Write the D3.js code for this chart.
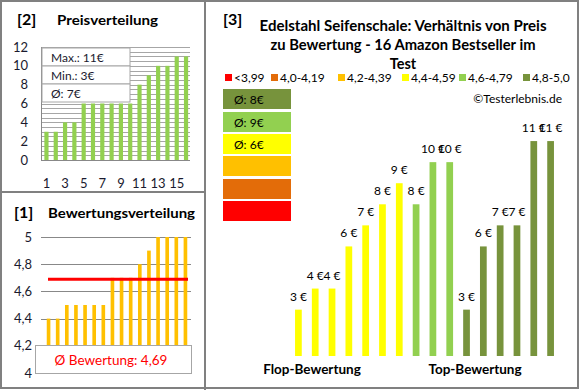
<!DOCTYPE html>
<html>
<head>
<meta charset="utf-8">
<script src="https://cdn.jsdelivr.net/npm/d3@7"></script>
<style>
  body { margin: 0; background: #fff; }
  svg text { font-family: Lato, "Open Sans", sans-serif; }
</style>
</head>
<body>
<div id="chart"></div>
<script>
// prices of the 16 products, sorted (panel 2)
var priceValues = [3, 3, 4, 4, 6, 6, 6, 6, 6, 6, 8, 9, 10, 10, 11, 11];
var priceTicks = [0, 2, 4, 6, 8, 10, 12];
var priceXLabels = [1, 3, 5, 7, 9, 11, 13, 15];
var priceStats = ["Max.: 11€", "Min.: 3€", "Ø: 7€"];

// ratings, sorted (panel 1)
var ratingValues = [4.4, 4.4, 4.5, 4.5, 4.5, 4.5, 4.5, 4.7, 4.7, 4.7, 4.8, 4.9, 5, 5, 5, 5];
var ratingTicks = [4, 4.2, 4.4, 4.6, 4.8, 5];
var ratingAvg = 4.69;

// panel 3: price per product, ordered by rating group
var mainPrices = [3, 4, 4, 6, 7, 8, 9, 8, 10, 10, 3, 6, 7, 7, 11, 11];
var mainGroups = ["4,4-4,59", "4,4-4,59", "4,4-4,59", "4,4-4,59", "4,4-4,59", "4,4-4,59", "4,4-4,59",
                  "4,6-4,79", "4,6-4,79", "4,6-4,79",
                  "4,8-5,0", "4,8-5,0", "4,8-5,0", "4,8-5,0", "4,8-5,0", "4,8-5,0"];
var legendLabels = ["<3,99", "4,0-4,19", "4,2-4,39", "4,4-4,59", "4,6-4,79", "4,8-5,0"];
var legendColors = ["#ff0000", "#e36c09", "#ffc000", "#ffff00", "#92d050", "#77933c"];
var avgBoxLabels = ["Ø: 8€", "Ø: 9€", "Ø: 6€", "", "", ""];
var avgBoxColors = ["#77933c", "#92d050", "#ffff00", "#ffc000", "#e36c09", "#ff0000"];

var svg = d3.select("#chart").append("svg")
    .attr("width", 580).attr("height", 390);

// frame and panel dividers
svg.append("rect").attr("x", 1).attr("y", 1).attr("width", 577).attr("height", 387)
    .attr("fill", "none").attr("stroke", "#808080").attr("stroke-width", 2);
svg.append("line").attr("x1", 205).attr("x2", 205).attr("y1", 0).attr("y2", 390)
    .attr("stroke", "#808080").attr("stroke-width", 2);
svg.append("line").attr("x1", 0).attr("x2", 205).attr("y1", 192).attr("y2", 192)
    .attr("stroke", "#808080").attr("stroke-width", 2);

// ---------- panel [2] Preisverteilung ----------
svg.append("text").attr("x", 17).attr("y", 25).attr("font-size", 16).attr("font-weight", "bold")
    .text("[2]");
svg.append("text").attr("x", 57).attr("y", 25).attr("font-size", 13.5).attr("font-weight", "bold")
    .attr("textLength", 101).attr("lengthAdjust", "spacingAndGlyphs")
    .text("Preisverteilung");

var px = d3.scaleBand().domain(d3.range(priceValues.length)).range([42.5, 190]).paddingInner(0.55).paddingOuter(0.2);
var py = d3.scaleLinear().domain([0, 12]).range([160, 47]);

var p2 = svg.append("g");
p2.selectAll(".grid").data(d3.range(0.5, 12.01, 0.5)).enter().append("line")
    .attr("x1", 41).attr("x2", 190)
    .attr("y1", function(d) { return Math.round(py(d)) + 0.5; })
    .attr("y2", function(d) { return Math.round(py(d)) + 0.5; })
    .attr("stroke", "#a6a6a6").attr("stroke-width", 1);
p2.append("line").attr("x1", 41.5).attr("x2", 41.5).attr("y1", 47).attr("y2", 160.5).attr("stroke", "#888");
p2.append("line").attr("x1", 41).attr("x2", 190).attr("y1", 160.5).attr("y2", 160.5).attr("stroke", "#888");

p2.selectAll(".bar").data(priceValues).enter().append("rect")
    .attr("x", function(d, i) { return px(i); })
    .attr("width", px.bandwidth())
    .attr("y", function(d) { return py(d); })
    .attr("height", function(d) { return py(0) - py(d); })
    .attr("fill", "#92d050");

p2.selectAll(".ytick").data(priceTicks).enter().append("text")
    .attr("x", 28).attr("y", function(d) { return py(d) + 4.5; })
    .attr("text-anchor", "end").attr("font-size", 13).attr("fill", "#1a1a2e")
    .text(function(d) { return d; });
p2.selectAll(".xtick").data(priceXLabels).enter().append("text")
    .attr("x", function(d) { return px(d - 1) + px.bandwidth() / 2; })
    .attr("y", 188).attr("text-anchor", "middle").attr("font-size", 13).attr("fill", "#1a1a2e")
    .text(function(d) { return d; });

var statBox = p2.selectAll(".stat").data(priceStats).enter().append("g")
    .attr("transform", function(d, i) { return "translate(42," + (48 + i * 18) + ")"; });
statBox.append("rect").attr("width", 88).attr("height", 18)
    .attr("fill", "#fff").attr("stroke", "#a6a6a6");
statBox.append("text").attr("x", 9).attr("y", 13.5).attr("font-size", 12).attr("fill", "#1a1a2e")
    .text(function(d) { return d; });

// ---------- panel [1] Bewertungsverteilung ----------
svg.append("text").attr("x", 14).attr("y", 218).attr("font-size", 16).attr("font-weight", "bold")
    .text("[1]");
svg.append("text").attr("x", 48).attr("y", 218).attr("font-size", 13.5).attr("font-weight", "bold")
    .attr("textLength", 147).attr("lengthAdjust", "spacingAndGlyphs")
    .text("Bewertungsverteilung");

var rx = d3.scaleBand().domain(d3.range(ratingValues.length)).range([44, 190]).paddingInner(0.6).paddingOuter(0.3);
var ry = d3.scaleLinear().domain([4, 5]).range([373, 237]);

var p1 = svg.append("g");
p1.selectAll(".grid").data(ratingTicks.slice(1)).enter().append("line")
    .attr("x1", 41).attr("x2", 191)
    .attr("y1", function(d) { return Math.round(ry(d)) + 0.5; })
    .attr("y2", function(d) { return Math.round(ry(d)) + 0.5; })
    .attr("stroke", "#888").attr("stroke-width", 1);

p1.selectAll(".bar").data(ratingValues).enter().append("rect")
    .attr("x", function(d, i) { return rx(i); })
    .attr("width", rx.bandwidth())
    .attr("y", function(d) { return ry(d); })
    .attr("height", function(d) { return ry(4) - ry(d); })
    .attr("fill", "#ffc000");

p1.append("line").attr("x1", 48).attr("x2", 188)
    .attr("y1", ry(ratingAvg)).attr("y2", ry(ratingAvg))
    .attr("stroke", "#ff0000").attr("stroke-width", 3);

p1.selectAll(".ytick").data(ratingTicks).enter().append("text")
    .attr("x", 32).attr("y", function(d) { return ry(d) + 4.5; })
    .attr("text-anchor", "end").attr("font-size", 13).attr("fill", "#1a1a2e")
    .text(function(d) { return String(d).replace(".", ","); });

p1.append("rect").attr("x", 35.5).attr("y", 345.5).attr("width", 156).attr("height", 28)
    .attr("fill", "#fff").attr("stroke", "#a6a6a6");
p1.append("text").attr("x", 111).attr("y", 364.5).attr("text-anchor", "middle")
    .attr("font-size", 13.5).attr("fill", "#ff0000")
    .text("Ø Bewertung: " + String(ratingAvg).replace(".", ","));

// ---------- panel [3] Preis / Bewertung ----------
svg.append("text").attr("x", 223).attr("y", 25).attr("font-size", 16).attr("font-weight", "bold")
    .text("[3]");
var titleLines = ["Edelstahl Seifenschale: Verhältnis von Preis", "zu Bewertung - 16 Amazon Bestseller im", "Test"];
var titleWidths = [287, 265, 0];
svg.selectAll(".title").data(titleLines).enter().append("text")
    .attr("x", 403).attr("y", function(d, i) { return 31 + i * 19; })
    .attr("text-anchor", "middle").attr("font-size", 14.5).attr("font-weight", "bold")
    .each(function(d, i) {
      if (titleWidths[i]) d3.select(this).attr("textLength", titleWidths[i]).attr("lengthAdjust", "spacingAndGlyphs");
    })
    .text(function(d) { return d; });

var legendX = [225, 271, 338, 402, 459, 523];
var leg = svg.selectAll(".leg").data(legendLabels).enter().append("g")
    .attr("transform", function(d, i) { return "translate(" + legendX[i] + ",73)"; });
leg.append("rect").attr("width", 7).attr("height", 7).attr("y", 1)
    .attr("fill", function(d, i) { return legendColors[i]; });
leg.append("text").attr("x", 9).attr("y", 9).attr("font-size", 12).text(function(d) { return d; });

var avgBoxY = [89, 112, 134, 156, 179, 201];
var ab = svg.selectAll(".avgbox").data(avgBoxLabels).enter().append("g")
    .attr("transform", function(d, i) { return "translate(223," + avgBoxY[i] + ")"; });
ab.append("rect").attr("width", 68).attr("height", 20)
    .attr("fill", function(d, i) { return avgBoxColors[i]; });
ab.append("text").attr("x", 11).attr("y", 14.5).attr("font-size", 12).text(function(d) { return d; });

svg.append("text").attr("x", 562).attr("y", 103).attr("text-anchor", "end").attr("font-size", 12)
    .text("©Testerlebnis.de");

var mx = d3.scaleBand().domain(d3.range(mainPrices.length)).range([290, 559]).paddingInner(0.6).paddingOuter(0.3);
var my = d3.scaleLinear().domain([0.8, 12]).range([356, 120]);
var groupColor = d3.scaleOrdinal().domain(legendLabels).range(legendColors);

var p3 = svg.append("g");
p3.selectAll(".bar").data(mainPrices).enter().append("rect")
    .attr("x", function(d, i) { return mx(i); })
    .attr("width", mx.bandwidth())
    .attr("y", function(d) { return my(d); })
    .attr("height", function(d) { return my(0.8) - my(d); })
    .attr("fill", function(d, i) { return groupColor(mainGroups[i]); });
p3.selectAll(".lbl").data(mainPrices).enter().append("text")
    .attr("x", function(d, i) { return mx(i) + mx.bandwidth() / 2; })
    .attr("y", function(d) { return my(d) - 9; })
    .attr("text-anchor", "middle").attr("font-size", 12)
    .text(function(d) { return d + " €"; });

svg.append("text").attr("x", 312).attr("y", 374).attr("text-anchor", "middle")
    .attr("font-size", 13.5).attr("font-weight", "bold").text("Flop-Bewertung");
svg.append("text").attr("x", 475).attr("y", 374).attr("text-anchor", "middle")
    .attr("font-size", 13.5).attr("font-weight", "bold").text("Top-Bewertung");
</script>
</body>
</html>
